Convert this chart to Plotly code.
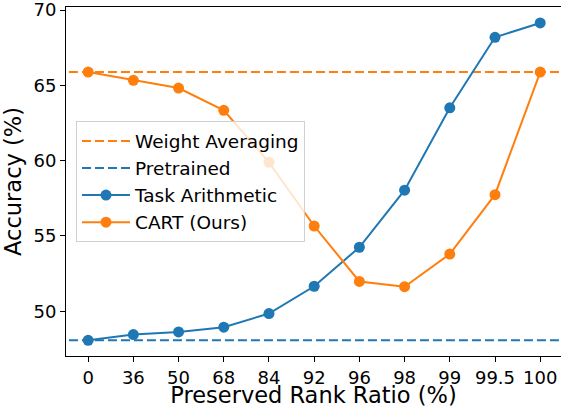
import plotly.graph_objects as go

ratio_labels = ["0", "36", "50", "68", "84", "92", "96", "98", "99", "99.5", "100"]
task_arithmetic = [48.07, 48.45, 48.63, 48.94, 49.85, 51.66, 54.25, 58.04, 63.51, 68.19, 69.14]
cart_ours = [65.88, 65.33, 64.82, 63.34, 59.89, 55.66, 51.98, 51.63, 53.80, 57.74, 65.88]
weight_averaging = 65.88
pretrained = 48.07
y_ticks = [50, 55, 60, 65, 70]

BLUE = "#1f77b4"
ORANGE = "#ff7f0e"
FONT = "DejaVu Sans"

idx = list(range(len(ratio_labels)))
span = [-1, len(ratio_labels)]

fig = go.Figure()
fig.add_trace(go.Scatter(x=span, y=[weight_averaging] * 2, mode="lines",
                         name="Weight Averaging",
                         line=dict(color=ORANGE, width=2, dash="9px,4px")))
fig.add_trace(go.Scatter(x=span, y=[pretrained] * 2, mode="lines",
                         name="Pretrained",
                         line=dict(color=BLUE, width=2, dash="9px,4px")))
fig.add_trace(go.Scatter(x=idx, y=task_arithmetic, mode="lines+markers",
                         name="Task Arithmetic",
                         line=dict(color=BLUE, width=2),
                         marker=dict(color=BLUE, size=11)))
fig.add_trace(go.Scatter(x=idx, y=cart_ours, mode="lines+markers",
                         name="CART (Ours)",
                         line=dict(color=ORANGE, width=2),
                         marker=dict(color=ORANGE, size=11)))

fig.update_layout(
    width=561, height=408,
    margin=dict(l=66, r=0, t=7, b=52),
    paper_bgcolor="white", plot_bgcolor="white",
    font=dict(family=FONT, color="black", size=18),
    showlegend=True,
    legend=dict(x=0.0202, y=0.672, xanchor="left", yanchor="top",
                bgcolor="rgba(255,255,255,0.8)", bordercolor="#d0d0d0",
                borderwidth=1, font=dict(size=18.5, family=FONT),
                tracegroupgap=0, itemwidth=48),
    xaxis=dict(range=[-0.49, 10.46], tickmode="array", tickvals=idx,
               ticktext=ratio_labels, showgrid=False, zeroline=False,
               showline=True, linecolor="black", linewidth=1, mirror=True,
               ticks="outside", ticklen=5, tickcolor="black",
               tickfont=dict(size=18), automargin=False,
               title=dict(text="Preserved Rank Ratio (%)", font=dict(size=22.5),
                          standoff=5)),
    yaxis=dict(range=[47.03, 70.2], tickmode="array", tickvals=y_ticks,
               showgrid=False, zeroline=False,
               showline=True, linecolor="black", linewidth=1,
               ticks="outside", ticklen=5, tickcolor="black",
               tickfont=dict(size=18), automargin=False,
               ticklabeloverflow="allow",
               title=dict(text="Accuracy (%)", font=dict(size=22.5),
                          standoff=6)),
)

fig.write_html("out.html")
